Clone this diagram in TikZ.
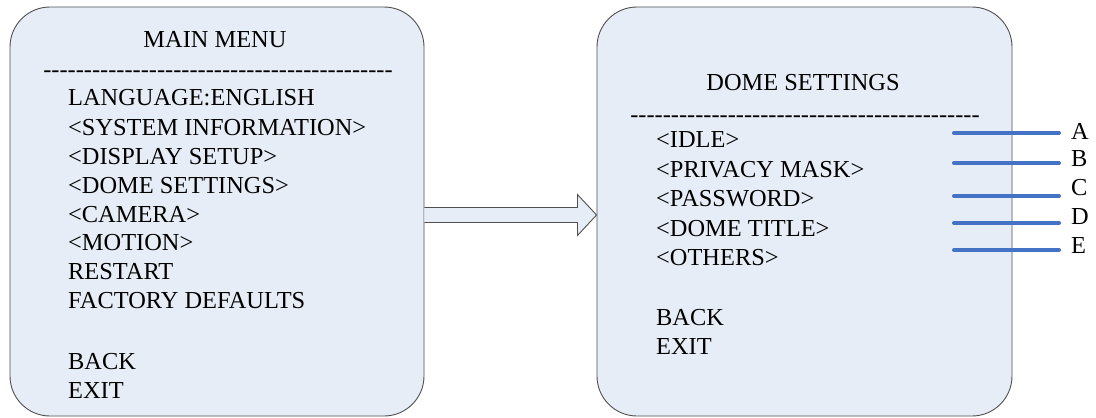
\documentclass[tikz,border=0pt]{standalone}
\usepackage{fontspec}
\setmainfont{Liberation Serif}
\usetikzlibrary{calc}
\definecolor{menufill}{RGB}{231,237,247}
\definecolor{menuline}{RGB}{80,80,80}
\definecolor{markblue}{RGB}{68,114,196}
% a row of single hyphens, kept apart so that no dash ligature forms
\newcommand{\hyphenrow}{\foreach \k in {1,...,43}{-\kern0pt}}
\begin{document}
\begin{tikzpicture}[x=1pt, y=-1pt]
  \tikzstyle{menubox}=[draw=menuline, fill=menufill, rounded corners=40pt, line width=0.9pt, inner sep=0pt]
  \tikzstyle{item}=[anchor=base west, inner sep=0pt, font=\fontsize{24.4}{29.4}\selectfont]
  \tikzstyle{menutitle}=[anchor=base, inner sep=0pt, font=\fontsize{24.4}{29.4}\selectfont]
  \tikzstyle{bluemark}=[draw=markblue, line width=4pt, line cap=round, shorten >=12pt]
  \tikzstyle{letter}=[anchor=west, inner sep=0pt, font=\fontsize{24.4}{29.4}\selectfont]

  \useasboundingbox (0, 0) rectangle (1096, 418);

  \node[menubox, minimum width=414pt, minimum height=409pt] (main) at (217, 211.5) {};
  \node[menubox, minimum width=415pt, minimum height=409pt] (dome) at (804.5, 211.5) {};

  \node[menutitle] (mtitle) at (215, 47) {MAIN MENU};
  \node[menutitle] (mdash)  at (218, 77) {\hyphenrow};

  \node[item] (m1)  at (68, 105) {LANGUAGE:ENGLISH};
  \node[item] (m2)  at (68, 135) {<SYSTEM INFORMATION>};
  \node[item] (m3)  at (68, 164) {<DISPLAY SETUP>};
  \node[item] (m4)  at (68, 193) {<DOME SETTINGS>};
  \node[item] (m5)  at (68, 222) {<CAMERA>};
  \node[item] (m6)  at (68, 250) {<MOTION>};
  \node[item] (m7)  at (68, 279) {RESTART};
  \node[item] (m8)  at (68, 308) {FACTORY DEFAULTS};
  \node[item] (m9)  at (68, 369) {BACK};
  \node[item] (m10) at (68, 398) {EXIT};

  \node[menutitle] (dtitle) at (803, 90)  {DOME SETTINGS};
  \node[menutitle] (ddash)  at (805, 122) {\hyphenrow};

  \node[item] (d1) at (656, 147) {<IDLE>};
  \node[item] (d2) at (656, 177) {<PRIVACY MASK>};
  \node[item] (d3) at (656, 206) {<PASSWORD>};
  \node[item] (d4) at (656, 236) {<DOME TITLE>};
  \node[item] (d5) at (656, 265) {<OTHERS>};
  \node[item] (d6) at (656, 325) {BACK};
  \node[item] (d7) at (656, 354) {EXIT};

  \node[letter] (la) at (1071, 131) {A};
  \node[letter] (lb) at (1071, 159) {B};
  \node[letter] (lc) at (1071, 188) {C};
  \node[letter] (ld) at (1071, 217) {D};
  \node[letter] (le) at (1071, 246) {E};

  \coordinate (pa) at (954, 133);
  \coordinate (pb) at (954, 163);
  \coordinate (pc) at (954, 196);
  \coordinate (pd) at (954, 223);
  \coordinate (pe) at (954, 250);

  \draw[bluemark] (pa) -- (pa -| la.west);
  \draw[bluemark] (pb) -- (pb -| lb.west);
  \draw[bluemark] (pc) -- (pc -| lc.west);
  \draw[bluemark] (pd) -- (pd -| ld.west);
  \draw[bluemark] (pe) -- (pe -| le.west);

  \draw[draw=menuline, fill=menufill, line width=0.9pt, line join=miter]
    ($(main.east)+(0, -4)$) -- ++(153, 0) -- ++(0, -13) -- ($(dome.west)+(0, 3.5)$)
    -- ($(main.east)+(153, 24)$) -- ++(0, -13) -- ($(main.east)+(0, 11)$);

\end{tikzpicture}
\end{document}
